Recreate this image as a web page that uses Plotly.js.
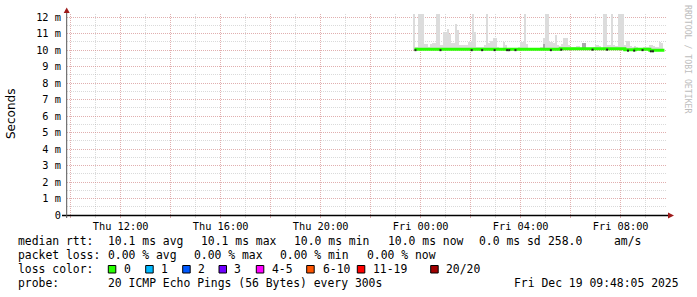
<!DOCTYPE html>
<html><head><meta charset="utf-8">
<script src="https://cdn.plot.ly/plotly-3.0.1.min.js"></script>
<style>html,body{margin:0;padding:0;background:#fff}</style>
</head><body><div id="chart" style="width:697px;height:297px"></div>
<script>
// ---- data ----
const seriesStart = Date.UTC(2025, 11, 18, 23, 45, 0); // Thu 23:45, 5-minute steps
const stepMs = 5 * 60 * 1000;
// smoke (max ping of each step, ms); values above 12.2 are clipped at top
const smokeTop = [
  13, 10.2, 13, 13, 13, 10.35, 10.35, 10.2, 10.35, 10.4,
  10.45, 13, 13, 10.3, 11.1, 11.1, 11.3, 11.0, 10.4, 10.4,
  11.6, 11.2, 10.3, 10.3, 10.3, 10.3, 10.5, 10.5, 13, 11.1,
  10.2, 10.2, 10.2, 10.2, 10.3, 13, 10.4, 10.55, 10.75, 10.7,
  10.2, 10.15, 10.15, 10.5, 10.3, 10.15, 10.15, 10.15, 10.15, 10.15,
  10.2, 10.5, 10.5, 13, 10.35, 10.15, 10.15, 10.15, 10.15, 10.15,
  10.15, 10.2, 10.7, 13, 13, 10.5, 10.5, 10.4, 10.9, 10.3,
  10.25, 10.35, 10.75, 10.7, 10.3, 10.2, 10.2, 10.2, 10.25, 10.25,
  10.15, 10.45, 10.45, 10.15, 10.15, 10.15, 10.2, 10.3, 10.3, 10.25,
  10.15, 13, 13, 10.3, 10.3, 13, 10.3, 10.25, 13, 13,
  13, 10.3, 10.55, 10.55, 10.25, 10.2, 10.25, 10.2, 10.15, 10.15,
  10.2, 10.2, 10.2, 10.3, 10.3, 10.25, 10.2, 10.2, 10.5, 10.45
];
const smokeBase = 9.98;
// darker smoke layer (inner percentiles), only where visible
const smokeDark = {62: 10.35, 81: 10.45, 82: 10.45};
// median rtt (ms)
const median = [
  10.05,10.05,10.05,10.05,10.05,10.05,10.05,10.05,10.05,10.05,
  10.05,10.05,10.05,10.05,10.05,10.05,10.05,10.05,10.05,10.05,
  10.05,10.05,10.05,10.05,10.05,10.05,10.05,10.05,10.05,10.05,
  10.05,10.05,10.05,10.05,10.05,10.05,10.05,10.05,10.05,10.05,
  10.05,10.05,10.05,10.05,10.05,10.05,10.05,10.05,10.05,10.05,
  10.05,10.05,10.05,10.05,10.05,10.05,10.05,10.05,10.05,10.05,
  10.05,10.05,10.05,10.05,10.05,10.05,10.05,10.05,10.05,10.05,
  10.08,10.08,10.08,10.08,10.08,10.08,10.08,10.08,10.08,10.08,
  10.08,10.08,10.08,10.08,10.08,10.08,10.08,10.08,10.08,10.08,
  10.08,10.08,10.08,10.08,10.08,10.08,10.08,10.08,10.08,10.08,
  10.08,10.02,10.02,10.02,10.02,10.02,10.05,10.05,10.05,10.05,
  10.05,10.05,10.05,9.98,9.98,9.98,9.98,9.98,9.98,9.98
];
// steps where the dark median marks show
const markIdx = [0, 12, 27, 32, 38, 44, 45, 48, 65, 70, 85, 92, 102, 105, 109, 113, 114];

const xTickTimes = ['2025-12-18 10:00','2025-12-18 12:00','2025-12-18 14:00','2025-12-18 16:00','2025-12-18 18:00','2025-12-18 20:00',
  '2025-12-18 22:00','2025-12-19 00:00','2025-12-19 02:00','2025-12-19 04:00','2025-12-19 06:00','2025-12-19 08:00'];
const xTickText = ['','Thu 12:00','','Thu 16:00','','Thu 20:00','','Fri 00:00','','Fri 04:00','','Fri 08:00'];
const yTickVals = [0,1,2,3,4,5,6,7,8,9,10,11,12];
const yTickText = ['0','1 m','2 m','3 m','4 m','5 m','6 m','7 m','8 m','9 m','10 m','11 m','12 m'];

const lossLabels = ['0','1','2','3','4-5','6-10','11-19','20/20'];
const lossColors = ['#26ff00','#00b8ff','#0059ff','#7000ff','#ff00ff','#ff5500','#ff0000','#a10000'];

const legendRtt = ['median rtt:', '10.1 ms avg', '10.1 ms max', '10.0 ms min', '10.0 ms now', '0.0 ms sd', '258.0', 'am/s'];
const legendLoss = ['packet loss:', '0.00 % avg', '0.00 % max', '0.00 % min', '0.00 % now'];
const probeText = ['probe:', '20 ICMP Echo Pings (56 Bytes) every 300s'];
const stampText = 'Fri Dec 19 09:48:05 2025';

// ---- build ----
const xs = smokeTop.map((_, i) => seriesStart + i * stepMs);
const L = 67, R = 30, T = 14, B = 82, W = 697, H = 297;
const PW = W - L - R, PH = H - T - B;
const px = p => (p - L) / PW;
const py = p => (H - B - p) / PH;
const mono = 'DejaVu Sans Mono';

const traces = [
  {type: 'bar', x: xs, y: smokeTop.map(v => v - smokeBase), base: smokeBase,
   width: stepMs, marker: {color: '#dcdcdc', line: {width: 0}}, hoverinfo: 'skip'},
  {type: 'bar', x: Object.keys(smokeDark).map(k => xs[+k]),
   y: Object.values(smokeDark).map(v => v - smokeBase), base: smokeBase,
   width: stepMs, marker: {color: '#aaaaaa', line: {width: 0}}, hoverinfo: 'skip'},
  {type: 'scatter', mode: 'lines', x: xs.concat([xs[xs.length-1] + stepMs]),
   y: median.concat([median[median.length-1]]),
   line: {color: lossColors[0], width: 3, shape: 'hv'}, hoverinfo: 'skip'},
  {type: 'scatter', mode: 'markers', x: markIdx.map(i => xs[i] + stepMs/2),
   y: markIdx.map(i => median[i] - 0.06),
   marker: {color: '#222', size: 2, symbol: 'square'}, hoverinfo: 'skip'}
];

const xStart = Date.UTC(2025, 11, 18, 9, 51, 12);
const gridMajor = 'rgba(235,110,110,0.4)';
const gridMinor = 'rgba(150,150,150,0.35)';
const tickMajor = 'rgba(225,120,120,0.5)';

const annotations = [];
function txt(x, y, s, opts) {
  annotations.push(Object.assign({xref: 'paper', yref: 'paper', x: px(x), y: py(y), text: s,
    showarrow: false, xanchor: 'left', yanchor: 'middle', borderpad: 0,
    font: {family: mono, size: 11.4, color: '#000'}}, opts || {}));
}
const rttX = [16.7, 107.3, 200.3, 293.3, 386.7, 478, 547, 613];
legendRtt.forEach((s, i) => txt(rttX[i], 241, s));
const lossX = [16.7, 107.3, 193.3, 279.3, 365.7];
legendLoss.forEach((s, i) => txt(lossX[i], 255, s));
txt(16.7, 269, 'loss color:');
const boxX = [108.3, 145.7, 182.7, 219, 256.3, 306.7, 357.3, 430.7];
const labX = [123.3, 160, 196.7, 233.3, 270.7, 321.7, 371.7, 445];
lossLabels.forEach((s, i) => txt(labX[i], 269, s));
txt(16.7, 283, probeText[0]);
txt(107.3, 283, probeText[1]);
txt(513.3, 283, stampText);
annotations.push({xref: 'paper', yref: 'paper', x: px(11), y: py(114), text: 'Seconds', showarrow: false,
  textangle: -90, xanchor: 'center', yanchor: 'middle', font: {family: 'DejaVu Sans', size: 12, color: '#000'}});
annotations.push({xref: 'paper', yref: 'paper', x: px(688), y: py(59), text: 'RRDTOOL / TOBI OETIKER', showarrow: false,
  textangle: 90, xanchor: 'center', yanchor: 'middle', font: {family: mono, size: 8.2, color: '#bdbdbd'}});

const shapes = [];
lossColors.forEach((c, i) => shapes.push({type: 'rect', xref: 'paper', yref: 'paper',
  x0: px(boxX[i]), x1: px(boxX[i] + 7.5), y0: py(273), y1: py(265.5),
  fillcolor: c, line: {color: '#000', width: 1}}));
// axes
shapes.push({type: 'line', xref: 'paper', yref: 'paper', x0: px(62), x1: px(669), y0: py(215.5), y1: py(215.5),
  line: {color: '#000', width: 1.5}});
shapes.push({type: 'line', xref: 'paper', yref: 'paper', x0: px(66.7), x1: px(66.7), y0: py(218), y1: py(11),
  line: {color: '#555', width: 1}});
shapes.push({type: 'path', xref: 'paper', yref: 'paper',
  path: `M ${px(63.7)} ${py(13)} L ${px(69.7)} ${py(13)} L ${px(66.7)} ${py(7.5)} Z`,
  fillcolor: '#9e1b1b', line: {width: 0}});
shapes.push({type: 'path', xref: 'paper', yref: 'paper',
  path: `M ${px(668)} ${py(212.5)} L ${px(668)} ${py(218.5)} L ${px(674)} ${py(215.5)} Z`,
  fillcolor: '#9e1b1b', line: {width: 0}});

const layout = {
  width: W, height: H, margin: {l: L, r: R, t: T, b: B, pad: 0},
  paper_bgcolor: '#fff', plot_bgcolor: '#fff', showlegend: false, barmode: 'overlay', bargap: 0,
  xaxis: {type: 'date', range: [xStart, xStart + 24 * 3600 * 1000], tickmode: 'array',
    tickvals: xTickTimes, ticktext: xTickText, showgrid: true, gridcolor: gridMajor, griddash: '1px,1px', gridwidth: 1,
    ticks: 'outside', ticklen: 2, tickcolor: tickMajor, zeroline: false, showline: false,
    tickfont: {family: mono, size: 10.3, color: '#000'},
    minor: {dtick: 3600000, tick0: '2025-12-18 10:00', showgrid: true, gridcolor: gridMinor, griddash: '1px,1px', gridwidth: 1,
      ticks: 'outside', ticklen: 2, tickcolor: gridMinor},
    fixedrange: true},
  yaxis: {range: [0, PH / 16.5], tickmode: 'array', tickvals: yTickVals, ticktext: yTickText,
    showgrid: true, gridcolor: gridMajor, griddash: '1px,1px', gridwidth: 1,
    ticks: 'outside', ticklen: 3, tickcolor: 'rgba(0,0,0,0)', zeroline: false, showline: false,
    tickfont: {family: mono, size: 10.3, color: '#000'},
    minor: {dtick: 0.5, showgrid: true, gridcolor: gridMinor, griddash: '1px,1px', gridwidth: 1},
    fixedrange: true},
  annotations: annotations, shapes: shapes
};
Plotly.newPlot('chart', traces, layout, {staticPlot: true, displayModeBar: false});
</script></body></html>
